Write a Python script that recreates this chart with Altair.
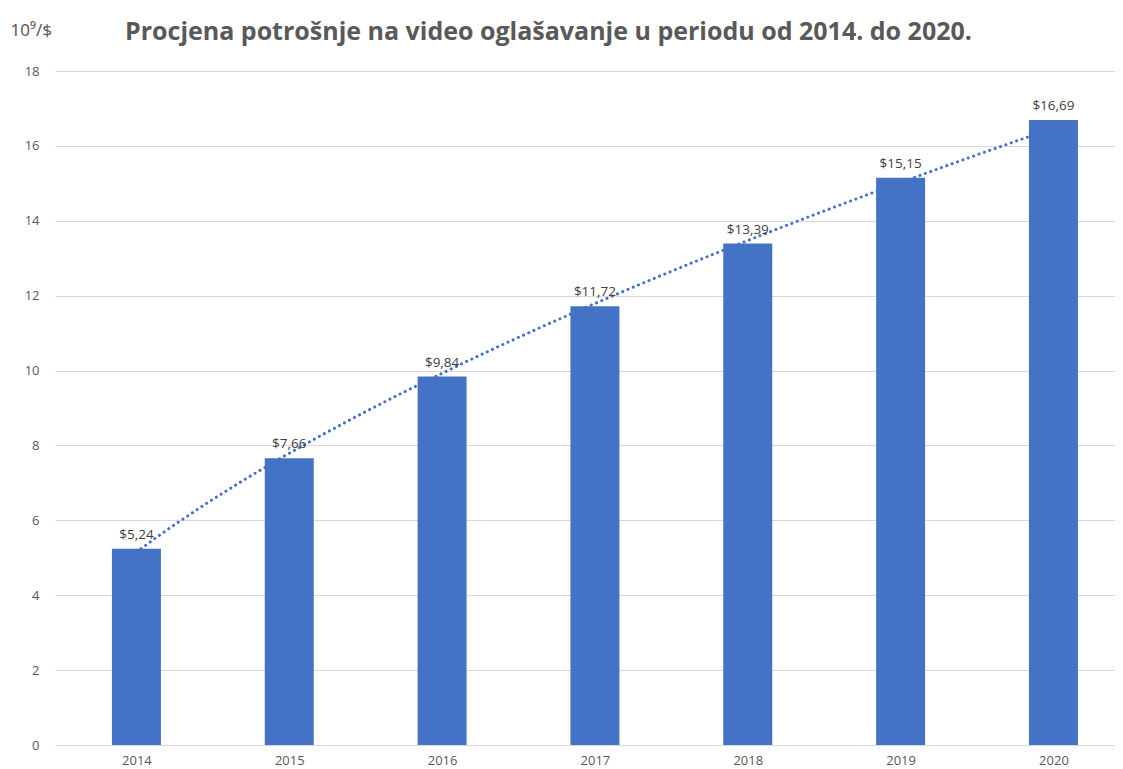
import altair as alt
import pandas as pd

years = [2014, 2015, 2016, 2017, 2018, 2019, 2020]
values = [5.24, 7.66, 9.84, 11.72, 13.39, 15.15, 16.69]
idx = list(range(1, len(years) + 1))
labels = ["$" + f"{v:.2f}".replace(".", ",") for v in values]

df = pd.DataFrame({"idx": idx, "year": years, "value": values, "label": labels})

FONT = "Open Sans"
GRAY = "#595959"
BLUE = "#4472C4"

x = alt.X(
    "idx:Q",
    scale=alt.Scale(domain=[0.5, 7.37], nice=False, zero=False),
    axis=alt.Axis(
        values=idx,
        labelExpr="datum.value + 2013",
        grid=False,
        domain=False,
        ticks=False,
        labelPadding=9,
        labelBaseline="top",
        labelFontSize=13,
        labelColor=GRAY,
        labelFont=FONT,
        title=None,
    ),
)
y = alt.Y(
    "value:Q",
    scale=alt.Scale(domain=[0, 18], nice=False),
    axis=alt.Axis(
        values=[0, 2, 4, 6, 8, 10, 12, 14, 16, 18],
        grid=True,
        gridColor="#D9D9D9",
        gridWidth=1.2,
        domain=False,
        ticks=False,
        labelPadding=16,
        labelFontSize=13,
        labelColor=GRAY,
        labelFont=FONT,
        title="10⁹/$",
        titleAngle=0,
        titleAlign="left",
        titleBaseline="alphabetic",
        titleX=-45,
        titleY=-36,
        titleFontSize=17,
        titleFontWeight="normal",
        titleColor=GRAY,
        titleFont="Noto Sans",
    ),
)

base = alt.Chart(df)

trend = base.transform_regression(
    "idx", "value", method="pow", extent=[1, 7]
).mark_line(
    color=BLUE, strokeDash=[0.1, 5.6], strokeWidth=3, strokeCap="round"
).encode(x=x, y=y)

bars = base.mark_bar(color=BLUE, size=49).encode(x=x, y=y)

text = base.mark_text(
    dy=-10, baseline="alphabetic", fontSize=13.5, color="#404040", font=FONT
).encode(x=x, y=y, text="label:N")

chart = alt.layer(trend, bars, text).properties(
    width=1060,
    height=674,
    autosize=alt.AutoSizeParams(type="none"),
    padding={"left": 47, "top": 63, "right": 0, "bottom": 22},
    title=alt.TitleParams(
        "Procjena potrošnje na video oglašavanje u periodu od 2014. do 2020.",
        anchor="start",
        dx=115,
        offset=-24,
        fontSize=25,
        fontWeight="bold",
        color=GRAY,
        font=FONT,
    ),
).configure_view(stroke=None)

chart.save("out.html", embed_options={"renderer": "svg", "actions": False})
